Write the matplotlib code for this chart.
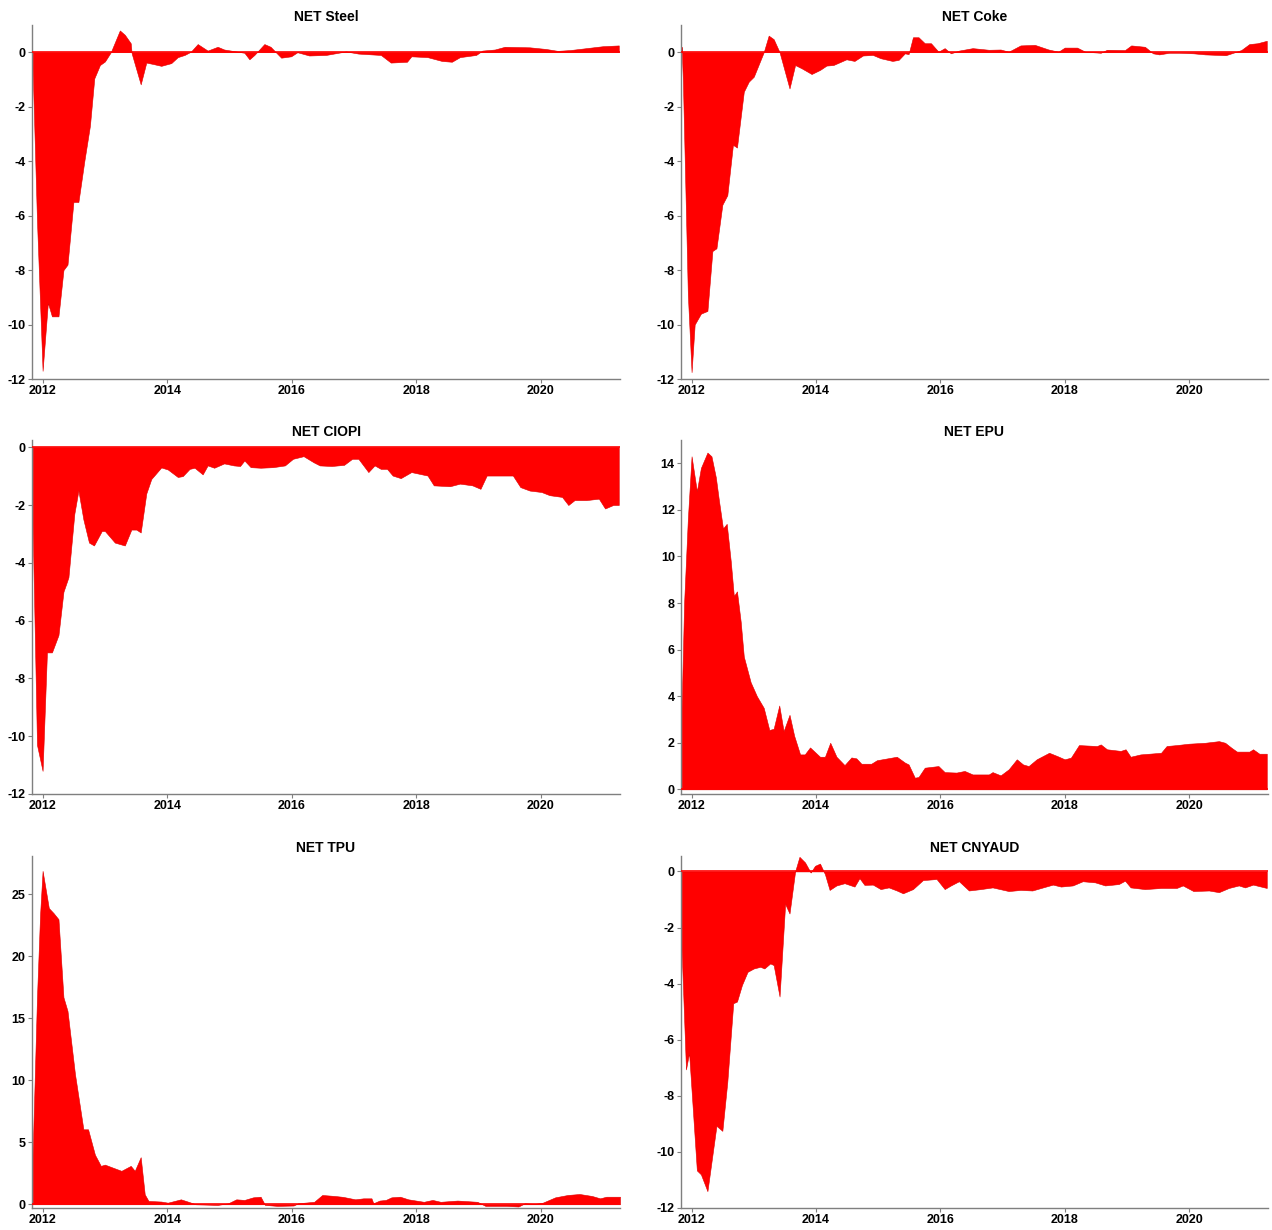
import matplotlib
matplotlib.use("Agg")
import matplotlib.pyplot as plt

plt.rcParams['font.family'] = ['Liberation Sans', 'DejaVu Sans']
plt.rcParams['axes.unicode_minus'] = False

titles = ["NET Steel", "NET Coke", "NET CIOPI", "NET EPU", "NET TPU", "NET CNYAUD"]

steel_t = [2011.84, 2011.91, 2012.0, 2012.085, 2012.15, 2012.255, 2012.335, 2012.40, 2012.495, 2012.575,
           2012.67, 2012.76, 2012.83, 2012.92, 2013.0, 2013.095, 2013.24, 2013.32, 2013.415, 2013.43,
           2013.575, 2013.665, 2013.77, 2013.905, 2014.065, 2014.17, 2014.28, 2014.38, 2014.49, 2014.65,
           2014.81, 2014.915, 2015.24, 2015.32, 2015.4, 2015.56, 2015.66, 2015.83, 2015.99, 2016.09,
           2016.28, 2016.55, 2016.87, 2017.07, 2017.43, 2017.59, 2017.85, 2017.92, 2018.18, 2018.41,
           2018.57, 2018.7, 2018.96, 2019.06, 2019.26, 2019.42, 2019.82, 2020.08, 2020.27, 2020.47,
           2020.73, 2020.99, 2021.25]
steel_v = [-0.6, -6.2, -11.7, -9.2, -9.7, -9.7, -8.0, -7.8, -5.5, -5.5,
           -4.0, -2.7, -0.96, -0.47, -0.34, 0.0, 0.8, 0.64, 0.33, -0.04,
           -1.18, -0.38, -0.43, -0.5, -0.4, -0.18, -0.1, 0.02, 0.3, 0.06,
           0.2, 0.1, -0.02, -0.26, -0.1, 0.3, 0.2, -0.2, -0.15, 0.0,
           -0.12, -0.1, 0.03, -0.05, -0.1, -0.38, -0.35, -0.15, -0.18, -0.32,
           -0.35, -0.18, -0.1, 0.06, 0.1, 0.2, 0.18, 0.12, 0.05, 0.08,
           0.15, 0.22, 0.25]

coke_t = [2011.84, 2011.86, 2011.94, 2012.0, 2012.05, 2012.15, 2012.255, 2012.335, 2012.40, 2012.495,
          2012.575, 2012.665, 2012.73, 2012.84, 2012.92, 2013.0, 2013.16, 2013.24, 2013.32, 2013.415,
          2013.575, 2013.665, 2013.77, 2013.93, 2014.065, 2014.17, 2014.28, 2014.49, 2014.62, 2014.755,
          2014.915, 2015.04, 2015.23, 2015.33, 2015.43, 2015.49, 2015.56, 2015.65, 2015.75, 2015.85,
          2015.97, 2016.07, 2016.17, 2016.3, 2016.52, 2016.78, 2016.97, 2017.1, 2017.29, 2017.52,
          2017.74, 2017.9, 2018.0, 2018.2, 2018.33, 2018.58, 2018.68, 2018.97, 2019.07, 2019.29,
          2019.42, 2019.52, 2019.68, 2019.84, 2020.07, 2020.26, 2020.59, 2020.71, 2020.84, 2020.97,
          2021.1, 2021.25]
coke_v = [0.2, -1.0, -8.9, -11.75, -10.0, -9.6, -9.5, -7.3, -7.2, -5.6,
          -5.25, -3.4, -3.5, -1.45, -1.08, -0.9, 0.0, 0.61, 0.48, 0.0,
          -1.33, -0.47, -0.59, -0.8, -0.65, -0.49, -0.47, -0.26, -0.32, -0.12,
          -0.1, -0.22, -0.32, -0.28, -0.04, -0.07, 0.55, 0.55, 0.33, 0.33,
          0.02, 0.15, -0.04, 0.06, 0.15, 0.09, 0.1, 0.02, 0.25, 0.27,
          0.1, 0.02, 0.17, 0.17, 0.02, -0.02, 0.09, 0.08, 0.25, 0.2,
          -0.04, -0.08, -0.02, -0.02, -0.04, -0.08, -0.11, -0.02, 0.08, 0.3,
          0.33, 0.42]

ciopi_t = [2011.84, 2011.91, 2012.0, 2012.07, 2012.15, 2012.255, 2012.335, 2012.415, 2012.51, 2012.575,
           2012.655, 2012.745, 2012.825, 2012.95, 2013.0, 2013.16, 2013.32, 2013.425, 2013.505, 2013.575,
           2013.665, 2013.745, 2013.905, 2014.01, 2014.17, 2014.25, 2014.36, 2014.44, 2014.57, 2014.65,
           2014.755, 2014.915, 2015.07, 2015.17, 2015.24, 2015.34, 2015.5, 2015.7, 2015.89, 2016.02,
           2016.19, 2016.35, 2016.45, 2016.64, 2016.84, 2016.97, 2017.07, 2017.23, 2017.33, 2017.43,
           2017.53, 2017.62, 2017.75, 2017.92, 2018.05, 2018.18, 2018.28, 2018.54, 2018.7, 2018.9,
           2019.03, 2019.13, 2019.55, 2019.67, 2019.82, 2020.01, 2020.14, 2020.34, 2020.44, 2020.54,
           2020.73, 2020.93, 2021.03, 2021.16, 2021.25]
ciopi_v = [-2.7, -10.3, -11.2, -7.1, -7.1, -6.5, -5.0, -4.5, -2.3, -1.5,
           -2.5, -3.3, -3.4, -2.9, -2.9, -3.3, -3.4, -2.85, -2.85, -2.95,
           -1.6, -1.1, -0.7, -0.77, -1.03, -1.0, -0.75, -0.71, -0.94, -0.63,
           -0.71, -0.56, -0.63, -0.65, -0.46, -0.69, -0.71, -0.69, -0.63, -0.4,
           -0.31, -0.52, -0.63, -0.65, -0.61, -0.4, -0.4, -0.86, -0.63, -0.75,
           -0.75, -0.98, -1.07, -0.86, -0.92, -0.98, -1.32, -1.35, -1.26, -1.32,
           -1.44, -0.98, -0.98, -1.38, -1.5, -1.55, -1.66, -1.72, -2.0, -1.83,
           -1.83, -1.78, -2.12, -2.0, -2.0]

epu_t = [2011.84, 2011.88, 2011.94, 2012.0, 2012.085, 2012.15, 2012.255, 2012.32, 2012.39, 2012.44,
         2012.505, 2012.565, 2012.63, 2012.68, 2012.73, 2012.79, 2012.84, 2012.95, 2013.05, 2013.16,
         2013.25, 2013.32, 2013.41, 2013.48, 2013.575, 2013.65, 2013.745, 2013.82, 2013.905, 2014.065,
         2014.145, 2014.23, 2014.33, 2014.46, 2014.57, 2014.65, 2014.73, 2014.89, 2014.98, 2015.3,
         2015.43, 2015.49, 2015.59, 2015.65, 2015.75, 2015.97, 2016.07, 2016.26, 2016.39, 2016.52,
         2016.78, 2016.84, 2016.97, 2017.1, 2017.23, 2017.33, 2017.42, 2017.55, 2017.75, 2017.88,
         2018.0, 2018.1, 2018.23, 2018.52, 2018.58, 2018.68, 2018.9, 2018.98, 2019.06, 2019.22,
         2019.55, 2019.64, 2019.8, 2020.0, 2020.26, 2020.48, 2020.58, 2020.68, 2020.77, 2020.97,
         2021.03, 2021.13, 2021.25]
epu_v = [3.5, 8.0, 11.6, 14.3, 12.8, 13.8, 14.46, 14.3, 13.4, 12.4,
         11.2, 11.4, 9.8, 8.3, 8.5, 7.2, 5.7, 4.6, 4.0, 3.5,
         2.55, 2.6, 3.6, 2.5, 3.2, 2.3, 1.5, 1.5, 1.8, 1.4,
         1.4, 2.0, 1.4, 1.04, 1.37, 1.33, 1.1, 1.1, 1.25, 1.4,
         1.15, 1.07, 0.5, 0.53, 0.93, 1.0, 0.74, 0.72, 0.79, 0.64,
         0.64, 0.74, 0.6, 0.86, 1.29, 1.07, 1.0, 1.29, 1.57, 1.43,
         1.29, 1.36, 1.9, 1.86, 1.93, 1.72, 1.65, 1.72, 1.4, 1.5,
         1.57, 1.86, 1.9, 1.96, 2.0, 2.07, 2.0, 1.79, 1.62, 1.62,
         1.72, 1.53, 1.53]

tpu_t = [2011.84, 2011.91, 2011.96, 2012.0, 2012.1, 2012.175, 2012.255, 2012.335, 2012.40, 2012.52,
         2012.655, 2012.73, 2012.84, 2012.935, 2013.0, 2013.105, 2013.265, 2013.415, 2013.48, 2013.575,
         2013.64, 2013.70, 2013.905, 2014.01, 2014.22, 2014.33, 2014.46, 2014.81, 2014.98, 2015.11,
         2015.24, 2015.38, 2015.5, 2015.57, 2015.77, 2016.03, 2016.1, 2016.36, 2016.49, 2016.69,
         2016.82, 2017.02, 2017.15, 2017.28, 2017.31, 2017.41, 2017.51, 2017.6, 2017.74, 2017.87,
         2018.12, 2018.26, 2018.39, 2018.66, 2018.98, 2019.11, 2019.44, 2019.64, 2019.74, 2019.9,
         2020.03, 2020.23, 2020.43, 2020.62, 2020.82, 2020.95, 2021.05, 2021.27]
tpu_v = [4.0, 16.7, 23.4, 26.9, 23.9, 23.5, 23.0, 16.7, 15.6, 10.5,
         6.05, 6.05, 4.0, 3.1, 3.2, 3.0, 2.7, 3.1, 2.7, 3.8,
         0.8, 0.27, 0.22, 0.13, 0.4, 0.22, 0.0, -0.05, 0.08, 0.4,
         0.35, 0.56, 0.61, -0.05, -0.13, -0.1, 0.08, 0.2, 0.75, 0.67,
         0.6, 0.4, 0.48, 0.48, 0.08, 0.3, 0.35, 0.56, 0.61, 0.4,
         0.2, 0.35, 0.2, 0.3, 0.2, -0.13, -0.13, -0.18, 0.08, 0.03,
         0.13, 0.56, 0.75, 0.83, 0.67, 0.48, 0.61, 0.61]

cny_t = [2011.84, 2011.91, 2011.96, 2012.085, 2012.15, 2012.255, 2012.40, 2012.495, 2012.575, 2012.67,
         2012.73, 2012.81, 2012.9, 2013.0, 2013.105, 2013.17, 2013.265, 2013.32, 2013.415, 2013.505,
         2013.575, 2013.665, 2013.735, 2013.825, 2013.915, 2013.985, 2014.065, 2014.145, 2014.22, 2014.33,
         2014.46, 2014.62, 2014.7, 2014.78, 2014.915, 2015.04, 2015.17, 2015.3, 2015.4, 2015.56,
         2015.72, 2015.94, 2016.07, 2016.17, 2016.3, 2016.46, 2016.65, 2016.84, 2017.1, 2017.29,
         2017.48, 2017.62, 2017.81, 2017.94, 2018.13, 2018.29, 2018.49, 2018.65, 2018.87, 2018.97,
         2019.06, 2019.29, 2019.55, 2019.8, 2019.9, 2020.07, 2020.32, 2020.48, 2020.64, 2020.8,
         2020.9, 2021.03, 2021.25]
cny_v = [-2.8, -7.06, -6.47, -10.66, -10.8, -11.4, -9.07, -9.25, -7.5, -4.7,
         -4.64, -4.05, -3.58, -3.46, -3.4, -3.46, -3.28, -3.34, -4.46, -1.16,
         -1.5, 0.0, 0.52, 0.32, -0.04, 0.2, 0.28, -0.1, -0.66, -0.5,
         -0.42, -0.54, -0.24, -0.48, -0.47, -0.63, -0.57, -0.68, -0.78, -0.63,
         -0.31, -0.27, -0.63, -0.5, -0.35, -0.68, -0.63, -0.57, -0.7, -0.66,
         -0.68, -0.59, -0.47, -0.54, -0.5, -0.35, -0.39, -0.5, -0.45, -0.33,
         -0.57, -0.63, -0.59, -0.59, -0.5, -0.7, -0.68, -0.74, -0.59, -0.5,
         -0.57, -0.47, -0.59]

series = [(steel_t, steel_v), (coke_t, coke_v), (ciopi_t, ciopi_v),
          (epu_t, epu_v), (tpu_t, tpu_v), (cny_t, cny_v)]
ylims = [(-12, 1.0), (-12, 1.0), (-12, 0.25), (-0.2, 15.0), (-0.3, 28.1), (-12, 0.55)]
yticks = [list(range(-12, 1, 2)), list(range(-12, 1, 2)), list(range(-12, 1, 2)),
          list(range(0, 15, 2)), list(range(0, 26, 5)), list(range(-12, 1, 2))]
xticks = [2012, 2014, 2016, 2018, 2020]

W, H = 1272, 1230
fig = plt.figure(figsize=(W / 100, H / 100), dpi=100)

col_x = [(32, 620), (681, 1268)]
row_y = [(25, 379), (440, 794), (856, 1208)]

for i, (t, v) in enumerate(series):
    r, c = divmod(i, 2)
    x0, x1 = col_x[c]
    yt, yb = row_y[r]
    ax = fig.add_axes([x0 / W, 1 - yb / H, (x1 - x0) / W, (yb - yt) / H])
    ax.fill_between(t, v, 0, color='#ff0000', edgecolor='#e00000', linewidth=0.4)
    ax.axhline(0, color='#ff0000', lw=1.2, zorder=3)
    ax.set_xlim(2011.83, 2021.27)
    ax.set_ylim(*ylims[i])
    ax.set_yticks(yticks[i])
    ax.set_xticks(xticks)
    ax.set_xticklabels([str(x) for x in xticks])
    for s in ['top', 'right']:
        ax.spines[s].set_visible(False)
    for s in ['left', 'bottom']:
        ax.spines[s].set_color('#7f7f7f')
        ax.spines[s].set_linewidth(1.0)
    ax.tick_params(axis='both', colors='#7f7f7f', labelcolor='black', labelsize=9,
                   length=3, width=0.8, pad=1.5)
    for lab in ax.get_xticklabels() + ax.get_yticklabels():
        lab.set_fontweight('bold')
    ax.set_title(titles[i], fontsize=10, fontweight='bold', pad=3)

fig.savefig('out.png', dpi=100)
